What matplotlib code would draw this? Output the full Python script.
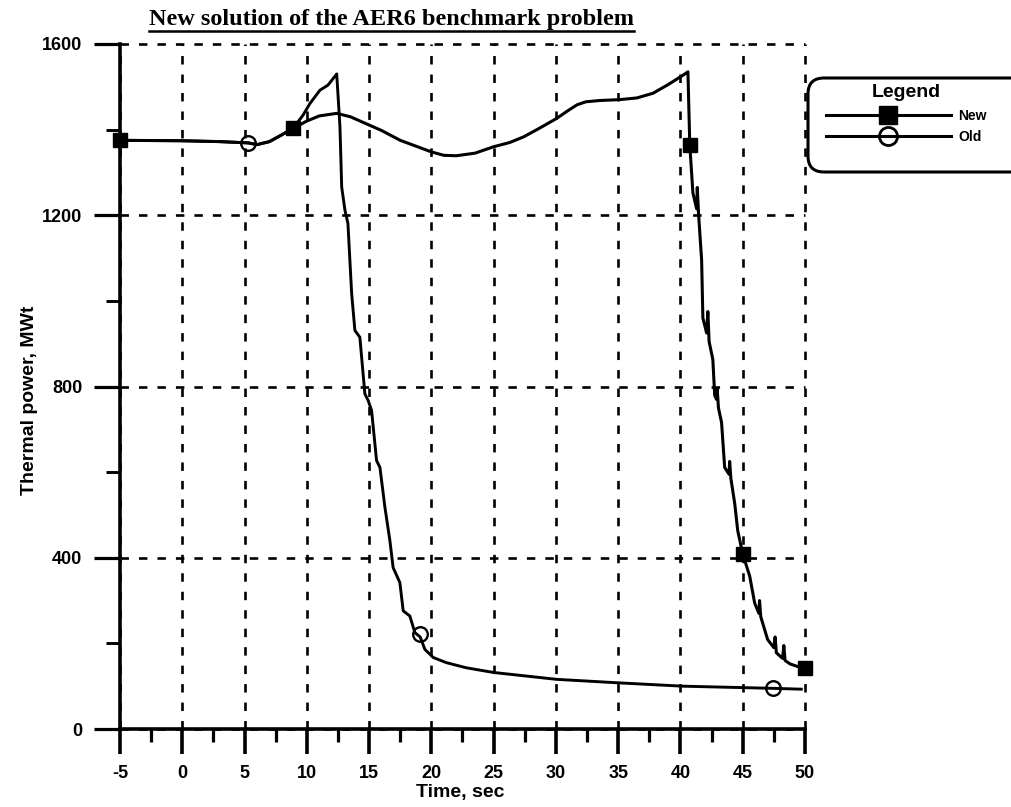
import matplotlib
matplotlib.use('Agg')
import matplotlib.pyplot as plt
from matplotlib.lines import Line2D
from matplotlib.patches import FancyBboxPatch
from matplotlib.ticker import MultipleLocator

plt.rcParams['axes.unicode_minus'] = False
plt.rcParams['font.family'] = ['Liberation Sans', 'DejaVu Sans']

# ---- data ----
old_t = [-5, 0, 3, 5.3, 6, 7, 8, 8.9, 9.7, 10.25, 11.05, 11.7, 12.4, 12.66, 12.8,
         13.06, 13.3, 13.6, 13.86, 14.26, 14.66, 14.93, 15.2, 15.6, 15.87, 16.27,
         16.67, 16.93, 17.47, 17.74, 18.27, 18.68, 19.1, 19.48, 20.15, 21.2, 22.8,
         25.0, 30.05, 34.9, 40.2, 47.4, 49.7]
old_p = [1375, 1374, 1372, 1369, 1365, 1372, 1388, 1403, 1434, 1461, 1492, 1504,
         1530, 1407, 1266, 1212, 1181, 1017, 931, 915, 783, 767, 744, 627, 611, 518,
         440, 377, 342, 276, 264, 225, 215, 186, 167, 155, 143, 132, 116, 108, 100,
         95, 93]

new_t = [-5, 0, 3, 5.3, 6, 7, 8, 8.9, 10, 11, 12.4, 13.5, 15.06, 16, 17.5, 20, 21,
         22, 23.5, 25, 26.3, 27.4, 28.6, 30.05, 31, 31.7, 32.4, 33.5, 35.1, 36.5,
         37.8, 39, 40.2, 40.6, 40.75,
         41.0, 41.3, 41.35, 41.45, 41.7, 41.8, 42.1, 42.2, 42.3, 42.6, 42.75, 42.9,
         42.95, 43.05, 43.3, 43.55, 43.9, 43.95, 44.05, 44.36, 44.6, 45.0, 45.56,
         45.96, 46.3, 46.35, 46.45, 47.0, 47.5, 47.6, 47.7, 48.2, 48.3, 48.4, 48.8,
         49.5, 50.0]
new_p = [1375, 1374, 1372, 1369, 1365, 1372, 1388, 1403, 1420, 1432, 1438, 1430,
         1410, 1398, 1375, 1348, 1340, 1339, 1345, 1360, 1370, 1383, 1402, 1426,
         1445, 1458, 1465, 1468, 1470, 1474, 1485, 1505, 1527, 1535, 1364,
         1252, 1215, 1265, 1205, 1095, 960, 925,
         975, 905, 863, 779, 770, 795, 750, 716, 611, 595, 625, 585, 526, 463, 409,
         357, 294, 270, 300, 262, 209, 190, 215, 178, 165, 195, 160, 152, 145, 142]

new_mark_t = [-5, 8.9, 40.75, 45.0, 50.0]
new_mark_p = [1375, 1403, 1363, 409, 142]
old_mark_t = [5.3, 19.1, 47.4]
old_mark_p = [1369, 221, 95]

x_ticks = [-5, 0, 5, 10, 15, 20, 25, 30, 35, 40, 45, 50]
y_ticks = [0, 400, 800, 1200, 1600]
series_labels = ['New', 'Old']

W, H = 1012, 807
fig = plt.figure(figsize=(W / 100, H / 100), dpi=100)
fig.patch.set_facecolor('white')
ax = fig.add_axes([120 / W, 1 - 729 / H, (805 - 120) / W, (729 - 44) / H])

ax.plot(old_t, old_p, color='black', lw=2.1, zorder=3)
ax.plot(new_t, new_p, color='black', lw=2.2, zorder=3)
ax.plot(new_mark_t, new_mark_p, ls='none', marker='s', ms=10.5, color='black',
        clip_on=False, zorder=4)
ax.plot(old_mark_t, old_mark_p, ls='none', marker='o', ms=10.5, mfc='none',
        mec='black', mew=1.7, clip_on=False, zorder=4)

ax.set_xlim(-5, 50)
ax.set_ylim(0, 1600)
ax.set_xticks(x_ticks)
ax.set_xticklabels([str(v) for v in x_ticks])
ax.set_yticks(y_ticks)
ax.xaxis.set_minor_locator(MultipleLocator(2.5))
ax.yaxis.set_minor_locator(MultipleLocator(200))

for s in ['top', 'right']:
    ax.spines[s].set_visible(False)
for s in ['left', 'bottom']:
    ax.spines[s].set_linewidth(2.6)

ax.tick_params(axis='x', which='major', direction='out', length=18, width=2.6,
               pad=8, labelsize=13)
ax.tick_params(axis='x', which='minor', direction='out', length=9, width=2.3)
ax.tick_params(axis='y', which='major', direction='out', length=19, width=2.3,
               pad=8, labelsize=13)
ax.tick_params(axis='y', which='minor', direction='out', length=10, width=2.1)
for lab in ax.get_xticklabels() + ax.get_yticklabels():
    lab.set_fontweight('bold')

ax.grid(True, which='major', color='black', lw=1.9, ls=(0, (3.2, 3.8)))
ax.set_axisbelow(True)

fig.text(460 / W, 1 - 792 / H, 'Time, sec', ha='center', va='center',
         fontsize=14, fontweight='bold')
fig.text(30 / W, 1 - 400 / H, 'Thermal power, MWt', ha='center', va='center',
         rotation=90, fontsize=14, fontweight='bold')

title = fig.text(392 / W, 1 - 19 / H, 'New solution of the AER6 benchmark problem',
                 ha='center', va='center', fontsize=17.5, fontweight='bold',
                 family=['Liberation Serif', 'DejaVu Serif'])

# legend frame (rounded box running off the right edge)
fig.add_artist(FancyBboxPatch((8.08, (H - 172) / 100), 2.3, 0.94,
                              boxstyle='round,pad=0,rounding_size=0.16',
                              transform=fig.dpi_scale_trans, facecolor='white',
                              edgecolor='black', lw=2.2, zorder=5))

handles = [Line2D([], [], color='black', lw=2.2, marker='s', ms=13),
           Line2D([], [], color='black', lw=2.2, marker='o', ms=13, mfc='none',
                  mew=2)]
leg = fig.legend(handles, series_labels, loc='upper left',
                 bbox_to_anchor=(826 / W, 1 - 84 / H), bbox_transform=fig.transFigure,
                 title='Legend', prop={'weight': 'bold', 'size': 10},
                 title_fontproperties={'weight': 'bold', 'size': 14},
                 handlelength=9, handletextpad=0.5, labelspacing=0.55,
                 borderpad=0, numpoints=1, frameon=False, borderaxespad=0)
leg.set_zorder(6)

fig.canvas.draw()
for gl in ax.get_xgridlines() + ax.get_ygridlines():
    gl.set_clip_on(False)
bb = title.get_window_extent()
fig.add_artist(Line2D([bb.x0 / W, bb.x1 / W], [(bb.y0 - 1) / H, (bb.y0 - 1) / H],
                      color='black', lw=1.8, transform=fig.transFigure))

fig.savefig('out.png', dpi=100, facecolor='white')
